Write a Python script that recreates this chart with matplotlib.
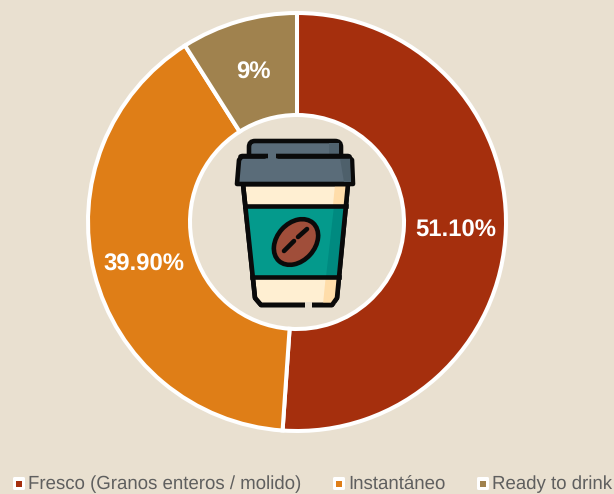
import matplotlib
matplotlib.use("Agg")
import matplotlib.pyplot as plt
from matplotlib.patches import Polygon, Ellipse, FancyBboxPatch, Rectangle

labels = ["Fresco (Granos enteros / molido)", "Instantáneo", "Ready to drink"]
values = [51.1, 39.9, 9]
pct_labels = ["51.10%", "39.90%", "9%"]
colors = ["#A52F0D", "#DF7E17", "#A0824E"]
bg = "#E9E0D0"
W, H = 614, 494

plt.rcParams["font.family"] = ["Liberation Sans", "DejaVu Sans"]
plt.rcParams["text.hinting"] = "no_hinting"
plt.rcParams["text.kerning_factor"] = 0
fig = plt.figure(figsize=(W / 100, H / 100), dpi=100, facecolor=bg)

# pie axes: centre 297,222, outer radius 209 plus a bit of room for the edge
cx, cy, r = 297, 222, 209
box = r + 6
ax = fig.add_axes([(cx - box) / W, 1 - (cy + box) / H, 2 * box / W, 2 * box / H])
ax.pie(values, colors=colors, startangle=90, counterclock=False, radius=r,
       wedgeprops=dict(width=r - 107, edgecolor="white", linewidth=2.9))
ax.set_xlim(-box, box)
ax.set_ylim(-box, box)
ax.set_aspect("equal")
ax.axis("off")

# overlay in pixel coords for labels, cup and legend
ov = fig.add_axes([0, 0, 1, 1])
ov.set_xlim(0, W)
ov.set_ylim(H, 0)
ov.axis("off")
ov.patch.set_alpha(0)

label_pos = [(456, 231), (144, 265), (253, 73)]
for (x, y), t in zip(label_pos, pct_labels):
    ov.text(x, y, t, color="white", fontsize=17.2, fontweight="bold", ha="center", va="center")

ink = "#0A0A0A"
lw = 3.3


def rrect(x0, y0, x1, y1, rad, fc, ec=ink, z=3, lw_=lw):
    p = FancyBboxPatch((x0 + rad, y0 + rad), x1 - x0 - 2 * rad, y1 - y0 - 2 * rad,
                       boxstyle=f"round,pad={rad}", fc=fc, ec=ec, lw=lw_, zorder=z)
    ov.add_patch(p)
    return p


# cup body
body = [(243, 184), (348, 184), (337, 298), (332, 305), (261, 305), (255, 298)]
ov.add_patch(Polygon(body, closed=True, fc="#FFEFD2", ec=ink, lw=lw, joinstyle="round", zorder=3))
ov.add_patch(Polygon([(335, 185), (347, 185), (336, 304), (323, 304)], closed=True, fc="#FFDDAA", ec="none", zorder=3.1))
ov.add_patch(Polygon(body, closed=True, fc="none", ec=ink, lw=lw, joinstyle="round", zorder=3.6))
# cleft in the bottom line
ov.add_patch(Rectangle((305, 302), 7, 7, fc=bg, ec="none", zorder=3.7))

# teal band
band = [(246.5, 206), (345, 206), (338.5, 277), (252.5, 277)]
ov.add_patch(Polygon(band, closed=True, fc="#049A8C", ec="none", zorder=3.2))
ov.add_patch(Polygon([(345, 206), (334, 206), (326, 277), (338.5, 277)], closed=True, fc="#008A80", ec="none", zorder=3.3))
ov.plot([245, 346], [206, 206], color=ink, lw=lw, zorder=3.4)
ov.plot([252, 339], [277, 277], color=ink, lw=lw, zorder=3.4)

# bean
ov.add_patch(Ellipse((296, 242), 51, 38, angle=-48, fc="#A04E3A", ec=ink, lw=lw, zorder=4))
ov.plot([284, 294], [251, 241], color=ink, lw=lw, solid_capstyle="round", zorder=4.2)
ov.plot([298, 307], [237, 229], color=ink, lw=lw, solid_capstyle="round", zorder=4.2)

# lid
rrect(249, 141, 341, 162, 6, "#5A6C79", z=4.5)
ov.add_patch(Rectangle((329, 143), 10, 14, fc="#50626E", ec="none", zorder=4.6))
lid = [(242, 156), (348, 156), (352, 160), (353, 184), (237, 184), (239, 160)]
ov.add_patch(Polygon(lid, closed=True, fc="#5A6C79", ec=ink, lw=lw, joinstyle="round", zorder=5))
ov.add_patch(Polygon([(340, 158), (350, 158), (351, 182), (344, 182)], closed=True, fc="#4E606B", ec="none", zorder=5.1))
ov.add_patch(Rectangle((268, 152), 8, 7, fc="#5A6C79", ec="none", zorder=5.2))
ov.plot([240, 264], [156, 156], color=ink, lw=lw, solid_capstyle="round", zorder=5.3)
ov.plot([278, 349], [156, 156], color=ink, lw=lw, solid_capstyle="round", zorder=5.3)

# legend
legend_x = [28, 348, 492]
for x, t, c in zip(legend_x, labels, colors):
    rrect(x - 15, 477, x - 3, 490, 1.5, "white", ec="none", z=3, lw_=0)
    ov.add_patch(Rectangle((x - 12, 480.5), 6, 6.5, fc=c, ec="none", zorder=4))
    ov.text(x, 484.5, t, color="#5F5F5F", fontsize=13.4, ha="left", va="center")

fig.savefig("out.png", dpi=100, facecolor=bg)
